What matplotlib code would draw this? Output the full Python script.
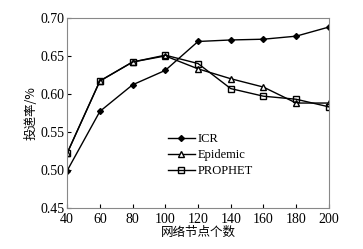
import matplotlib
matplotlib.use("Agg")
import matplotlib.pyplot as plt

plt.rcParams['font.family'] = ['Liberation Serif', 'Noto Sans CJK SC']

nodes = [40, 60, 80, 100, 120, 140, 160, 180, 200]
icr = [0.499, 0.577, 0.612, 0.631, 0.669, 0.671, 0.672, 0.676, 0.688]
epidemic = [0.522, 0.617, 0.642, 0.650, 0.633, 0.620, 0.609, 0.588, 0.588]
prophet = [0.522, 0.617, 0.642, 0.651, 0.640, 0.607, 0.597, 0.593, 0.583]

fig = plt.figure(figsize=(3.63, 2.49), dpi=100)
ax = fig.add_axes([0.185, 0.165, 0.721, 0.763])

ax.plot(nodes, icr, color='black', lw=1, marker='D', ms=3, label='ICR')
ax.plot(nodes, epidemic, color='black', lw=1, marker='^', ms=5,
        mfc='white', mec='black', label='Epidemic')
ax.plot(nodes, prophet, color='black', lw=1, marker='s', ms=5,
        mfc='none', mec='black', label='PROPHET')

ax.set_xlim(40, 200)
ax.set_ylim(0.45, 0.70)
ax.set_xticks(nodes)
ax.set_yticks([0.45, 0.50, 0.55, 0.60, 0.65, 0.70])
ax.set_yticklabels(['0.45', '0.50', '0.55', '0.60', '0.65', '0.70'])
ax.tick_params(direction='in', length=3, labelsize=10, pad=2)
ax.tick_params(axis='x', pad=3.5)

for s in ax.spines.values():
    s.set_color('#888888')
    s.set_linewidth(0.8)

ax.set_xlabel('网络节点个数', fontsize=9, family=['Noto Sans CJK SC'], labelpad=0)
ax.set_ylabel('投递率/%', fontsize=9, family=['Noto Sans CJK SC', 'Liberation Serif'], labelpad=2)

ax.legend(loc='upper left', bbox_to_anchor=(0.36, 0.425), frameon=False,
          fontsize=9, handlelength=2.2, handletextpad=0.2, labelspacing=0.3,
          borderpad=0)

fig.savefig('out.png', dpi=100)
